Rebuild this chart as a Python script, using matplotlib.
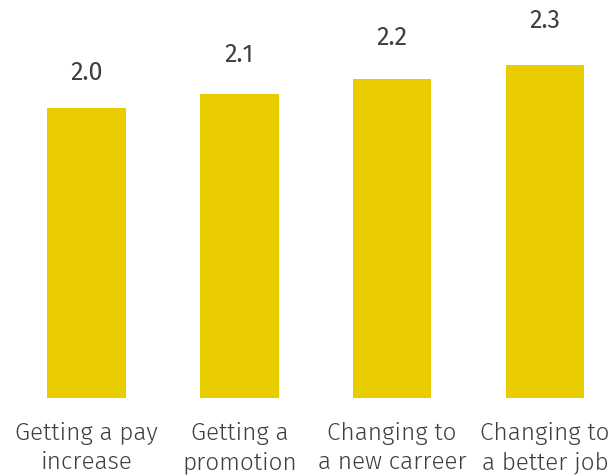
import matplotlib
matplotlib.use("Agg")
import matplotlib.pyplot as plt

categories = ["Getting a pay\nincrease", "Getting a\npromotion",
              "Changing to\na new carreer", "Changing to\na better job"]
values = [2.0, 2.1, 2.2, 2.3]

font = "Fira Sans"
bar_color = "#EACD00"
text_color = "#3F3F3F"

W, H = 609, 476
fig = plt.figure(figsize=(W / 100, H / 100), dpi=100)
base_px = 78
ax = fig.add_axes([0, base_px / H, 1, 1 - base_px / H])

x = list(range(len(values)))
ax.bar(x, values, width=0.515, color=bar_color)

# value labels, stepped up a little more than the bars themselves
for xi, v in zip(x, values):
    ax.text(xi, 1.2 * v - 0.155, f"{v:.1f}", ha="center", va="center",
            fontsize=18, color=text_color, family=font, weight=400)

ax.set_xlim(-86.5 / 152.8, (W - 86.5) / 152.8)
ax.set_ylim(0, (H - base_px) / 145)
ax.set_xticks(x)
ax.set_xticklabels(categories, fontsize=17.5, color=text_color, family=font,
                   weight=300, linespacing=1.32)
ax.tick_params(axis="x", length=0, pad=17)
ax.set_yticks([])
for s in ax.spines.values():
    s.set_visible(False)

fig.savefig("out.png", dpi=100)
